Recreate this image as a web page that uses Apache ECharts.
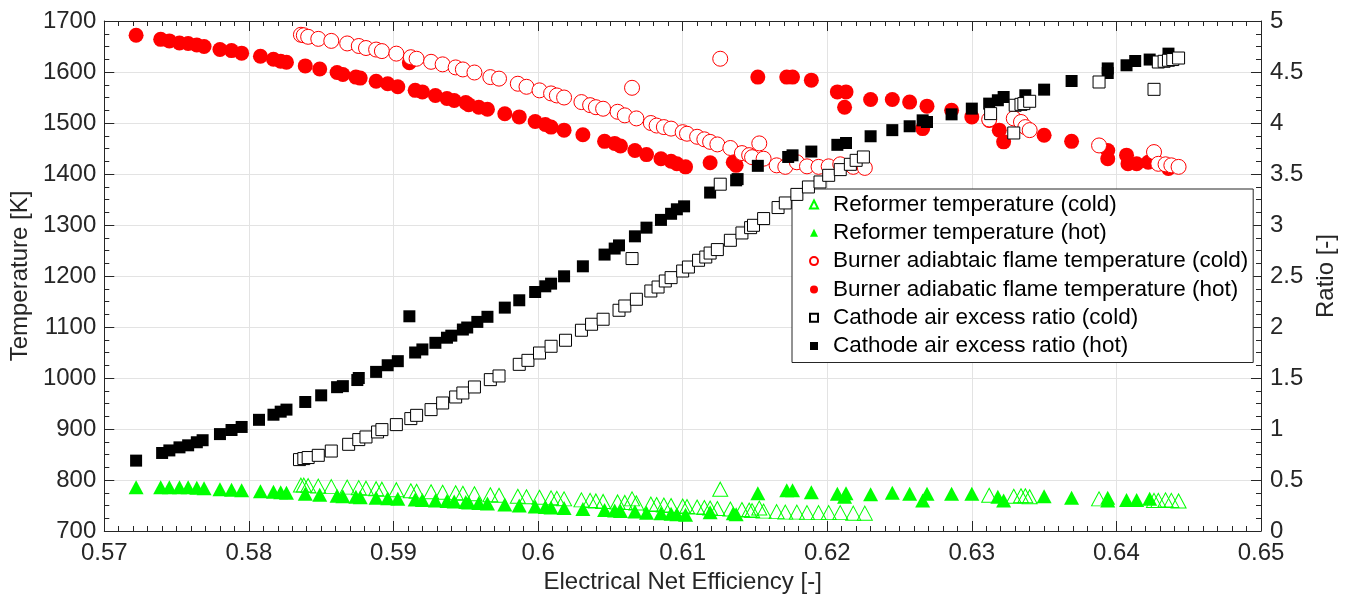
<!DOCTYPE html>
<html>
<head>
<meta charset="utf-8">
<script src="https://cdn.jsdelivr.net/npm/echarts@6/dist/echarts.min.js"></script>
<style>
  html, body { margin: 0; padding: 0; background: #fff; }
  #chart { width: 1349px; height: 602px; }
</style>
</head>
<body>
<div id="chart"></div>
<script>
// series names
const names = [
  'Reformer temperature (cold)',
  'Reformer temperature (hot)',
  'Burner adiabtaic flame temperature (cold)',
  'Burner adiabatic flame temperature (hot)',
  'Cathode air excess ratio (cold)',
  'Cathode air excess ratio (hot)'
];

// [efficiency, temperature K]
const reformerHot = [
  [0.5722,786],[0.5739,786],[0.5745,786],[0.5752,786],[0.5758,786],[0.5764,785],[0.5769,784],
  [0.5780,782],[0.5788,781],[0.5795,780],[0.5808,778],[0.5817,777],[0.5822,776],[0.5826,775],
  [0.5839,773],[0.5849,771],[0.5861,769],[0.5865,768],[0.5874,767],[0.5877,766],[0.5888,765],
  [0.5896,764],[0.5903,763],[0.5915,762],[0.5920,761],[0.5929,760],[0.5937,759],[0.5942,758],
  [0.5950,757],[0.5952,756],[0.5959,755],[0.5965,754],[0.5977,752],[0.5987,750],[0.5998,748],
  [0.6005,747],[0.6009,746],[0.6018,745],[0.6031,743],[0.6046,741],[0.6053,740],[0.6057,739],
  [0.6067,738],[0.6075,736],[0.6085,735],[0.6092,734],[0.6096,733],[0.6102,732],[0.6119,737],
  [0.6135,735],[0.6137,733],[0.6152,774],[0.6172,780],[0.6176,780],[0.6189,776],[0.6207,773],
  [0.6213,774],[0.6212,767],[0.6230,772],[0.6245,775],[0.6257,773],[0.6269,773],[0.6266,760],
  [0.6286,773],[0.6300,773],[0.6318,767],[0.6322,760],[0.6350,768],[0.6369,765],[0.6394,765],
  [0.6394,760],[0.6407,761],[0.6414,761],[0.6423,763]
];

const reformerCold = [
  [0.5836,790],[0.5838,790],[0.5841,789],[0.5848,788],[0.5857,787],[0.5868,786],[0.5876,785],
  [0.5881,784],[0.5888,783],[0.5892,782],[0.5902,781],[0.5912,779],[0.5916,778],[0.5926,777],
  [0.5934,776],[0.5943,775],[0.5948,774],[0.5956,773],[0.5967,771],[0.5973,770],[0.5986,768],
  [0.5992,767],[0.6001,766],[0.6009,765],[0.6013,764],[0.6018,763],[0.6030,761],[0.6036,760],
  [0.6040,759],[0.6045,758],[0.6055,757],[0.6060,756],[0.6065,763],[0.6068,755],[0.6078,753],
  [0.6082,752],[0.6087,751],[0.6092,750],[0.6100,749],[0.6103,748],[0.6110,747],[0.6115,746],
  [0.6119,745],[0.6124,744],[0.6126,782],[0.6133,743],[0.6141,742],[0.6146,741],[0.6148,740],
  [0.6153,745],[0.6156,739],[0.6165,738],[0.6171,737],[0.6179,737],[0.6186,736],[0.6194,736],
  [0.6201,736],[0.6209,736],[0.6218,735],[0.6226,735],[0.6312,770],[0.6329,768],[0.6334,769],
  [0.6337,769],[0.6340,767],[0.6388,763],[0.6426,760],[0.6429,760],[0.6434,761],[0.6438,760],
  [0.6443,759]
];

const burnerHot = [
  [0.5722,1672],[0.5739,1664],[0.5745,1661],[0.5752,1657],[0.5758,1656],[0.5764,1653],[0.5769,1650],
  [0.5780,1644],[0.5788,1642],[0.5795,1637],[0.5808,1631],[0.5817,1625],[0.5822,1621],[0.5826,1619],
  [0.5839,1612],[0.5849,1606],[0.5861,1599],[0.5865,1595],[0.5874,1590],[0.5877,1588],[0.5888,1582],
  [0.5896,1577],[0.5903,1571],[0.5911,1618],[0.5915,1564],[0.5920,1561],[0.5929,1554],[0.5937,1548],
  [0.5942,1544],[0.5950,1540],[0.5952,1536],[0.5959,1531],[0.5965,1527],[0.5977,1518],[0.5987,1512],
  [0.5998,1503],[0.6005,1497],[0.6009,1492],[0.6018,1486],[0.6031,1477],[0.6046,1464],[0.6053,1460],
  [0.6057,1455],[0.6067,1446],[0.6075,1438],[0.6085,1430],[0.6092,1425],[0.6096,1420],[0.6102,1414],
  [0.6119,1422],[0.6135,1423],[0.6137,1417],[0.6152,1590],[0.6172,1590],[0.6176,1590],[0.6189,1584],
  [0.6207,1561],[0.6213,1561],[0.6212,1531],[0.6230,1546],[0.6245,1546],[0.6257,1541],[0.6269,1533],
  [0.6266,1489],[0.6286,1525],[0.6300,1512],[0.6312,1505],[0.6319,1486],[0.6322,1463],[0.6350,1476],
  [0.6369,1464],[0.6394,1446],[0.6394,1430],[0.6407,1437],[0.6408,1420],[0.6414,1420],[0.6422,1423],
  [0.6436,1411]
];

const burnerCold = [
  [0.5836,1673],[0.5838,1672],[0.5841,1669],[0.5848,1665],[0.5857,1661],[0.5868,1656],[0.5876,1651],
  [0.5881,1647],[0.5888,1644],[0.5892,1641],[0.5902,1636],[0.5912,1629],[0.5916,1626],[0.5926,1620],
  [0.5934,1615],[0.5943,1609],[0.5948,1605],[0.5956,1599],[0.5967,1590],[0.5973,1587],[0.5986,1577],
  [0.5992,1571],[0.6001,1564],[0.6009,1558],[0.6013,1554],[0.6018,1550],[0.6030,1541],[0.6036,1535],
  [0.6040,1531],[0.6045,1528],[0.6055,1522],[0.6060,1515],[0.6065,1569],[0.6068,1509],[0.6078,1500],
  [0.6082,1495],[0.6087,1492],[0.6092,1489],[0.6100,1482],[0.6103,1479],[0.6110,1473],[0.6115,1468],
  [0.6119,1463],[0.6124,1458],[0.6126,1626],[0.6133,1451],[0.6141,1441],[0.6146,1437],[0.6148,1433],
  [0.6153,1460],[0.6156,1430],[0.6165,1417],[0.6171,1414],[0.6179,1423],[0.6186,1415],[0.6194,1414],
  [0.6201,1415],[0.6209,1419],[0.6218,1414],[0.6226,1412],[0.6312,1507],[0.6329,1509],[0.6334,1502],
  [0.6337,1492],[0.6340,1486],[0.6388,1456],[0.6426,1443],[0.6429,1420],[0.6434,1419],[0.6438,1417],
  [0.6443,1414]
];

// [efficiency, ratio]
const cathodeHot = [
  [0.5722,0.69],[0.5740,0.765],[0.5745,0.79],[0.5752,0.82],[0.5758,0.84],[0.5764,0.87],[0.5768,0.89],
  [0.5780,0.95],[0.5788,0.99],[0.5795,1.02],[0.5807,1.09],[0.5817,1.14],[0.5822,1.17],[0.5826,1.19],
  [0.5839,1.265],[0.5850,1.33],[0.5861,1.41],[0.5865,1.42],[0.5875,1.48],[0.5876,1.50],[0.5888,1.56],
  [0.5896,1.625],[0.5903,1.665],[0.5911,2.105],[0.5915,1.75],[0.5920,1.78],[0.5929,1.845],[0.5937,1.895],
  [0.5940,1.915],[0.5948,1.975],[0.5951,1.995],[0.5958,2.05],[0.5965,2.10],[0.5977,2.19],[0.5987,2.262],
  [0.5998,2.343],[0.6005,2.399],[0.6009,2.425],[0.6018,2.497],[0.6031,2.595],[0.6046,2.71],[0.6053,2.769],
  [0.6056,2.80],[0.6067,2.889],[0.6075,2.974],[0.6085,3.05],[0.6092,3.11],[0.6096,3.154],[0.6101,3.183],
  [0.6119,3.318],[0.6137,3.438],[0.6138,3.45],[0.6152,3.58],[0.6173,3.667],[0.6176,3.683],[0.6189,3.72],
  [0.6207,3.786],[0.6213,3.804],[0.6230,3.87],[0.6245,3.93],[0.6257,3.968],[0.6266,4.026],[0.6269,4.01],
  [0.6286,4.085],[0.6300,4.141],[0.6312,4.19],[0.6318,4.223],[0.6322,4.255],[0.6337,4.272],[0.6350,4.327],
  [0.6369,4.412],[0.6394,4.49],[0.6394,4.535],[0.6407,4.566],[0.6413,4.608],[0.6423,4.622],[0.6436,4.68]
];

const cathodeCold = [
  [0.5835,0.70],[0.5838,0.71],[0.5841,0.72],[0.5848,0.742],[0.5857,0.784],[0.5869,0.85],[0.5876,0.896],
  [0.5881,0.922],[0.5889,0.971],[0.5892,0.994],[0.5902,1.043],[0.5912,1.102],[0.5916,1.134],[0.5926,1.19],
  [0.5934,1.255],[0.5943,1.314],[0.5948,1.353],[0.5956,1.412],[0.5967,1.484],[0.5973,1.52],[0.5987,1.634],
  [0.5993,1.673],[0.6001,1.745],[0.6009,1.811],[0.6019,1.87],[0.6030,1.968],[0.6037,2.027],[0.6045,2.076],
  [0.6056,2.164],[0.6060,2.206],[0.6065,2.671],[0.6068,2.272],[0.6078,2.353],[0.6083,2.392],[0.6088,2.451],
  [0.6092,2.484],[0.6100,2.549],[0.6104,2.588],[0.6111,2.654],[0.6116,2.686],[0.6119,2.725],[0.6124,2.759],
  [0.6126,3.40],[0.6133,2.85],[0.6141,2.922],[0.6147,2.974],[0.6149,2.997],[0.6156,3.063],[0.6166,3.171],
  [0.6171,3.216],[0.6179,3.30],[0.6187,3.373],[0.6195,3.422],[0.6201,3.487],[0.6209,3.543],[0.6216,3.595],
  [0.6220,3.634],[0.6225,3.667],[0.6313,4.092],[0.6329,3.902],[0.6330,4.174],[0.6334,4.183],[0.6336,4.19],
  [0.6340,4.213],[0.6388,4.402],[0.6426,4.33],[0.6429,4.598],[0.6433,4.605],[0.6436,4.615],[0.6439,4.622],
  [0.6443,4.637]
];

const FONT = '"Liberation Sans", Arial, sans-serif';
const AXIS_COLOR = '#262626';
const GREEN = '#00ff00';
const RED = '#ff0000';
const TICK_FONT = 24;
const NAME_FONT = 24;

var chart = echarts.init(document.getElementById('chart'), null, { renderer: 'canvas' });

function plainNumber(v) {
  return String(Math.round(v * 1000) / 1000);
}

function axisCommon(labelMargin, minorSplit) {
  return {
    axisLine: { show: true, lineStyle: { color: AXIS_COLOR, width: 1 } },
    axisTick: { show: true, inside: true, length: 10, lineStyle: { color: AXIS_COLOR } },
    minorTick: { show: true, splitNumber: minorSplit, length: 5, lineStyle: { color: AXIS_COLOR } },
    axisLabel: { color: AXIS_COLOR, fontSize: TICK_FONT, fontFamily: FONT, margin: labelMargin, formatter: plainNumber },
    nameTextStyle: { color: AXIS_COLOR, fontSize: NAME_FONT, fontFamily: FONT }
  };
}

var option = {
  animation: false,
  backgroundColor: '#fff',
  grid: { left: 101, right: 88, top: 21, bottom: 71, containLabel: false },
  legend: {
    orient: 'vertical',
    left: 792,
    top: 189,
    data: names,
    backgroundColor: '#fff',
    borderColor: AXIS_COLOR,
    borderWidth: 1,
    borderRadius: 0,
    padding: [4, 5, 5, 17],
    itemWidth: 8,
    itemHeight: 8,
    itemGap: 5.3,
    textStyle: { color: '#000', fontSize: 22.5, fontFamily: FONT, lineHeight: 22, padding: [0, 0, 0, 10] }
  },
  xAxis: [
    Object.assign(axisCommon(10, 10), {
      type: 'value', min: 0.57, max: 0.65, interval: 0.01,
      name: 'Electrical Net Efficiency [-]', nameLocation: 'middle', nameGap: 38,
      splitLine: { show: true, lineStyle: { color: '#e3e3e3' } }
    }),
    Object.assign(axisCommon(10, 10), {
      type: 'value', min: 0.57, max: 0.65, interval: 0.01, position: 'top',
      axisLabel: { show: false },
      splitLine: { show: false }
    })
  ],
  yAxis: [
    Object.assign(axisCommon(8, 4), {
      type: 'value', min: 700, max: 1700, interval: 100,
      name: 'Temperature [K]', nameLocation: 'middle', nameGap: 62, nameRotate: 90,
      splitLine: { show: true, lineStyle: { color: '#e3e3e3' } }
    }),
    Object.assign(axisCommon(9, 4), {
      type: 'value', min: 0, max: 5, interval: 0.5, position: 'right',
      name: 'Ratio [-]', nameLocation: 'middle', nameGap: 50, nameRotate: 90,
      splitLine: { show: false }
    })
  ],
  series: [
    {
      name: names[1], type: 'scatter', data: reformerHot, yAxisIndex: 0, z: 2,
      symbol: 'triangle', symbolSize: [15, 14],
      itemStyle: { color: GREEN, opacity: 1 }
    },
    {
      name: names[0], type: 'scatter', data: reformerCold, yAxisIndex: 0, z: 3,
      symbol: 'triangle', symbolSize: [15, 14],
      itemStyle: { color: 'rgba(255,255,255,0)', borderColor: GREEN, borderWidth: 1, opacity: 1 }
    },
    {
      name: names[3], type: 'scatter', data: burnerHot, yAxisIndex: 0, z: 4,
      symbol: 'circle', symbolSize: 15,
      itemStyle: { color: RED, opacity: 1 }
    },
    {
      name: names[2], type: 'scatter', data: burnerCold, yAxisIndex: 0, z: 5,
      symbol: 'circle', symbolSize: 15,
      itemStyle: { color: '#fff', borderColor: RED, borderWidth: 1, opacity: 1 }
    },
    {
      name: names[5], type: 'scatter', data: cathodeHot, yAxisIndex: 1, z: 6,
      symbol: 'rect', symbolSize: 12,
      itemStyle: { color: '#000', opacity: 1 }
    },
    {
      name: names[4], type: 'scatter', data: cathodeCold, yAxisIndex: 1, z: 7,
      symbol: 'rect', symbolSize: 12,
      itemStyle: { color: '#fff', borderColor: '#000', borderWidth: 1, opacity: 1 }
    }
  ]
};

chart.setOption(option);
window.addEventListener('resize', chart.resize);
</script>
</body>
</html>
